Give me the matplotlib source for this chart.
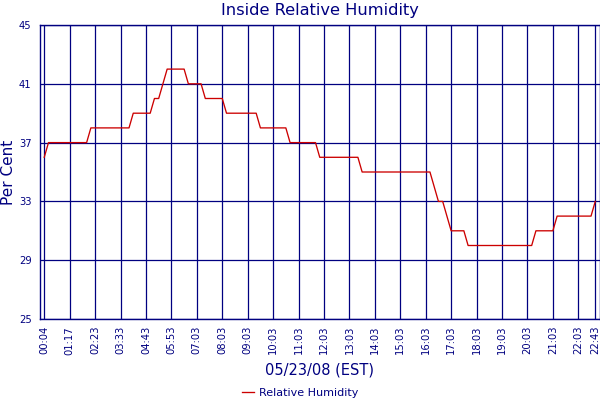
import numpy as np
import matplotlib
matplotlib.use("Agg")
import matplotlib.pyplot as plt

# Relative humidity readings (one per ~10 min sample), stored as runs
run_values = [36, 37, 38, 39, 40, 41, 42, 41, 40, 39, 38, 37, 36, 35, 34, 33, 32, 31, 30, 31, 32, 33]
run_counts = [1, 10, 10, 5, 2, 1, 5, 4, 5, 8, 7, 7, 10, 17, 1, 2, 1, 4, 16, 5, 9, 1]

tick_labels = ["00:04", "01:17", "02:23", "03:33", "04:43", "05:53", "07:03", "08:03",
               "09:03", "10:03", "11:03", "12:03", "13:03", "14:03", "15:03", "16:03",
               "17:03", "18:03", "19:03", "20:03", "21:03", "22:03", "22:43"]
y_ticks = [25, 29, 33, 37, 41, 45]

humidity = np.repeat(run_values, run_counts)
n = len(humidity)
x = np.arange(n)
tick_pos = list(range(0, n - 1, 6))
if tick_pos[-1] != n - 1:
    tick_pos.append(n - 1)

navy = "#000080"
red = "#CC0000"

fig = plt.figure(figsize=(6, 4), dpi=100)
ax = fig.add_axes([40 / 600, 1 - 319 / 400, 559.5 / 600, 294 / 400])

ax.plot(x, humidity, color=red, lw=0.95, label="Relative Humidity", zorder=3)

ax.set_xlim(-1, n)
ax.set_ylim(25, 45)
ax.set_yticks(y_ticks)
ax.set_xticks(tick_pos)
ax.set_xticklabels(tick_labels, rotation=90)
ax.tick_params(axis="both", length=0, colors=navy, labelsize=7.2)
ax.tick_params(axis="y", pad=6)
ax.tick_params(axis="x", pad=5)
ax.grid(True, color=navy, lw=0.9, zorder=1)
for s in ax.spines.values():
    s.set_color(navy)
    s.set_linewidth(1.0)

ax.set_title("Inside Relative Humidity", color=navy, fontsize=11.7, pad=7)
ax.set_ylabel("Per Cent", color=navy, fontsize=11, labelpad=2)
ax.set_xlabel("05/23/08 (EST)", color=navy, fontsize=10.5, labelpad=6)

leg = fig.legend(loc="lower center", bbox_to_anchor=(0.5, -0.02), frameon=False,
                 fontsize=8, handlelength=1.1, handletextpad=0.4)
for t in leg.get_texts():
    t.set_color(navy)

fig.savefig("out.png", dpi=100, facecolor="white")
